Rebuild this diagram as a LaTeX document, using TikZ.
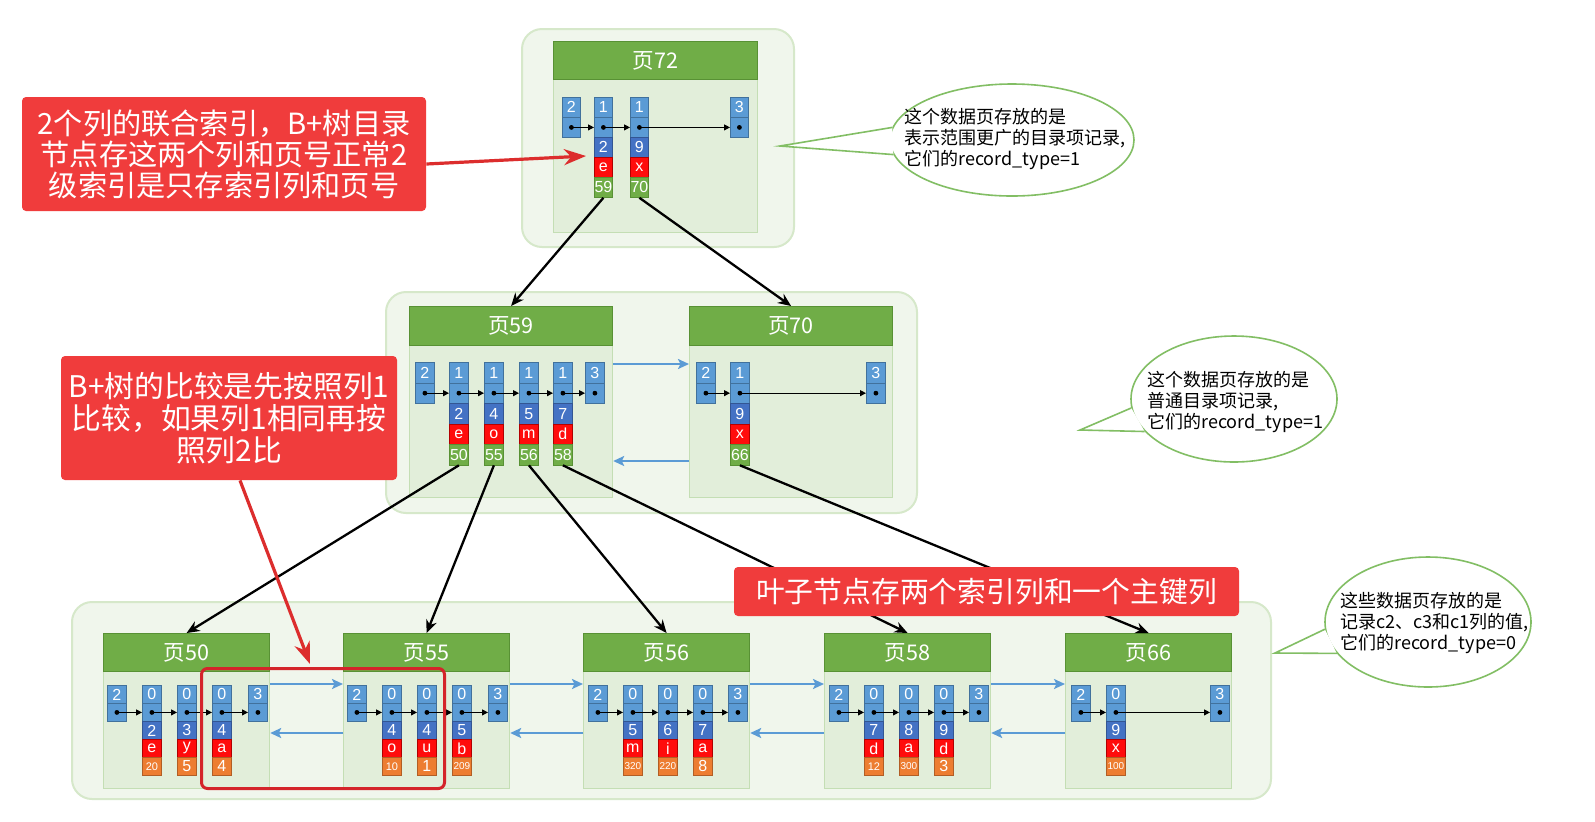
\documentclass[tikz,border=0pt]{standalone}
\usepackage{fontspec}
\setmainfont{Liberation Sans}
\newfontfamily\cjk{Noto Sans CJK SC}
\usetikzlibrary{arrows.meta,shapes.geometric}
\definecolor{grpfill}{RGB}{240,246,236}
\definecolor{grpdraw}{RGB}{214,232,202}
\definecolor{pgfillc}{RGB}{226,238,218}
\definecolor{pgdraw}{RGB}{196,222,180}
\definecolor{hdrfill}{RGB}{112,173,71}
\definecolor{hdrdraw}{RGB}{88,145,52}
\definecolor{cblue}{RGB}{91,155,213}
\definecolor{cbluedraw}{RGB}{65,113,156}
\definecolor{cdblue}{RGB}{68,114,196}
\definecolor{cred}{RGB}{255,12,12}
\definecolor{cgreen}{RGB}{112,173,71}
\definecolor{corange}{RGB}{237,125,49}
\definecolor{annred}{RGB}{240,60,60}
\definecolor{arrred}{RGB}{220,45,45}
\definecolor{hlred}{RGB}{212,36,42}
\definecolor{calloutg}{RGB}{130,190,100}
\definecolor{larrow}{RGB}{91,155,213}
\newcommand\rowh{20}
\newcommand\cellw{9pt}
\newcommand\cellh{10pt}
\newcommand\rtop[4]{%
  \node[cb] (#1t) at (#2,#3) {#4};
  \node[cb] (#1d) at (#2,#3+\rowh) {};
  \fill (#1d.center) circle[radius=1.2pt];
}
\newcommand\rfull[8]{%
  \rtop{#1}{#2}{#3}{#4}%
  \node[cdb] (#1n) at (#2,#3+2*\rowh) {#5};
  \node[cr] (#1l) at (#2,#3+3*\rowh) {#6};
  \node[#7] (#1p) at (#2,#3+4*\rowh) {#8};
}
\newcommand\link[2]{\draw[smallarr] (#1d.center) -- (#2d.west);}
\newcommand\pg[8]{%
  \node[pagebody, minimum width=#4, minimum height=#7] (#1-b) at (#2,#3+#5) {};
  \node[header, minimum width=#4, minimum height=#6] (#1-h) at (#2,#3) {#8};
}
\begin{document}
\begin{tikzpicture}[x=0.5pt,y=-0.5pt,
  group/.style={draw=grpdraw, fill=grpfill, line width=1pt, rounded corners=10pt, anchor=north west, inner sep=0},
  pagebody/.style={draw=pgdraw, fill=pgfillc, line width=0.6pt, anchor=north west, inner sep=0},
  header/.style={draw=hdrdraw, fill=hdrfill, line width=0.6pt, anchor=north west, inner sep=0, text=white, font=\cjk\fontsize{10.8}{12}\selectfont},
  cellbase/.style={line width=0.4pt, anchor=north west, inner sep=0, minimum width=\cellw, minimum height=\cellh, text=white, font=\fontsize{8}{8}\selectfont},
  cb/.style={cellbase, fill=cblue, draw=cbluedraw},
  cdb/.style={cellbase, fill=cdblue, draw=cdblue!75!black},
  cr/.style={cellbase, fill=cred, draw=red!70!black},
  cg/.style={cellbase, fill=cgreen, draw=hdrdraw},
  co/.style={cellbase, fill=corange, draw=corange!75!black},
  sm2/.style={font=\fontsize{5.5}{5.5}\selectfont},
  sm3/.style={font=\fontsize{5}{5}\selectfont},
  smallarr/.style={-{Triangle[length=3pt,width=3pt]}, line width=0.5pt},
  treearr/.style={-{Stealth[length=6.5pt,width=5.5pt]}, line width=1.15pt},
  bluearr/.style={-{Stealth[length=5.5pt,width=5pt,inset=1.2pt]}, line width=1.2pt, draw=larrow},
  annbox/.style={fill=annred, rounded corners=2pt, text=white, align=center, inner sep=0},
  redarr/.style={-{Stealth[length=11pt,width=8pt]}, line width=1.6pt, draw=arrred},
  bubble/.style={ellipse, draw=calloutg, fill=white, line width=0.8pt, inner sep=0},
  callouttext/.style={align=left, anchor=west, font=\cjk\fontsize{9}{10.7}\selectfont, inner sep=0}
]
\useasboundingbox (0,0) rectangle (1595,821);
\fill[white] (0,0) rectangle (1595,821);

% groups
\node[group, minimum width=136pt, minimum height=109pt] (g1) at (521,28) {};
\node[group, minimum width=265.5pt, minimum height=110.5pt] (g2) at (385,291) {};
\node[group, minimum width=599.5pt, minimum height=98.5pt] (g3) at (71,601) {};

% pages
\pg{p72}{553}{41}{102pt}{38}{19pt}{76.5pt}{页72}
\pg{p59}{409}{306}{101.5pt}{39}{19.5pt}{76pt}{页59}
\pg{p70}{689}{306}{101.5pt}{39}{19.5pt}{76pt}{页70}
\pg{p50}{103}{633}{83pt}{38}{19pt}{58.5pt}{页50}
\pg{p55}{343}{633}{83pt}{38}{19pt}{58.5pt}{页55}
\pg{p56}{583}{633}{83pt}{38}{19pt}{58.5pt}{页56}
\pg{p58}{824}{633}{83pt}{38}{19pt}{58.5pt}{页58}
\pg{p66}{1065}{633}{83pt}{38}{19pt}{58.5pt}{页66}

% page 72 records
\renewcommand\rowh{20}\renewcommand\cellw{9pt}\renewcommand\cellh{10pt}
\rtop{a0}{562}{97}{2}
\rfull{a1}{594}{97}{1}{2}{e}{cg}{59}
\rfull{a2}{630}{97}{1}{9}{x}{cg}{70}
\rtop{a3}{730}{97}{3}
\link{a0}{a1}\link{a1}{a2}\link{a2}{a3}

% page 59 / 70 records
\renewcommand\rowh{20.5}\renewcommand\cellw{9.5pt}\renewcommand\cellh{10.25pt}
\rtop{b0}{415}{362}{2}
\rfull{b1}{449}{362}{1}{2}{e}{cg}{50}
\rfull{b2}{484}{362}{1}{4}{o}{cg}{55}
\rfull{b3}{519}{362}{1}{5}{m}{cg}{56}
\rfull{b4}{553}{362}{1}{7}{d}{cg}{58}
\rtop{b5}{585}{362}{3}
\link{b0}{b1}\link{b1}{b2}\link{b2}{b3}\link{b3}{b4}\link{b4}{b5}
\rtop{c0}{696}{362}{2}
\rfull{c1}{730}{362}{1}{9}{x}{cg}{66}
\rtop{c2}{866}{362}{3}
\link{c0}{c1}\link{c1}{c2}

% leaf records
\renewcommand\rowh{18}\renewcommand\cellw{9.5pt}\renewcommand\cellh{9pt}
\rtop{d0}{107}{685}{2}
\rfull{d1}{142}{685}{0}{2}{e}{co,sm2}{20}
\rfull{d2}{177}{685}{0}{3}{y}{co}{5}
\rfull{d3}{212}{685}{0}{4}{a}{co}{4}
\rtop{d4}{248}{685}{3}
\link{d0}{d1}\link{d1}{d2}\link{d2}{d3}\link{d3}{d4}
\rtop{e0}{347}{685}{2}
\rfull{e1}{382}{685}{0}{4}{o}{co,sm2}{10}
\rfull{e2}{417}{685}{0}{4}{u}{co}{1}
\rfull{e3}{452}{685}{0}{5}{b}{co,sm3}{209}
\rtop{e4}{488}{685}{3}
\link{e0}{e1}\link{e1}{e2}\link{e2}{e3}\link{e3}{e4}
\rtop{f0}{588}{685}{2}
\rfull{f1}{623}{685}{0}{5}{m}{co,sm3}{320}
\rfull{f2}{658}{685}{0}{6}{i}{co,sm3}{220}
\rfull{f3}{693}{685}{0}{7}{a}{co}{8}
\rtop{f4}{728}{685}{3}
\link{f0}{f1}\link{f1}{f2}\link{f2}{f3}\link{f3}{f4}
\rtop{g0}{829}{685}{2}
\rfull{g1}{864}{685}{0}{7}{d}{co,sm2}{12}
\rfull{g2}{899}{685}{0}{8}{a}{co,sm3}{300}
\rfull{g3}{934}{685}{0}{9}{d}{co}{3}
\rtop{g4}{969}{685}{3}
\link{g0}{g1}\link{g1}{g2}\link{g2}{g3}\link{g3}{g4}
\rtop{h0}{1071}{685}{2}
\rfull{h1}{1106}{685}{0}{9}{x}{co,sm3}{100}
\rtop{h2}{1210}{685}{3}
\link{h0}{h1}\link{h1}{h2}

% sibling (blue) arrows
\draw[bluearr] ([yshift=-9.5pt]p59-b.north east) -- ([yshift=-9.5pt]p70-b.north west);
\draw[bluearr] ([yshift=-58pt]p70-b.north west) -- ([yshift=-58pt]p59-b.north east);
\foreach \pa/\pb in {p50/p55,p55/p56,p56/p58,p58/p66}{
  \draw[bluearr] ([yshift=-6.5pt]\pa-b.north east) -- ([yshift=-6.5pt]\pb-b.north west);
  \draw[bluearr] ([yshift=-31pt]\pb-b.north west) -- ([yshift=-31pt]\pa-b.north east);
}

% tree arrows
\draw[treearr] (a1p.south) -- (p59-h.north);
\draw[treearr] (a2p.south) -- (p70-h.north);
\draw[treearr] (b1p.south) -- (p50-h.north);
\draw[treearr] (b2p.south) -- (p55-h.north);
\draw[treearr] (b3p.south) -- (p56-h.north);
\draw[treearr] (b4p.south) -- (p58-h.north);
\draw[treearr] (c1p.south) -- (p66-h.north);

% highlight
\node[draw=hlred, line width=1.5pt, rounded corners=3pt, minimum width=121.5pt, minimum height=60pt, anchor=north west, inner sep=0] (hl) at (200,667) {};

% annotations
\node[annbox, minimum width=202pt, minimum height=57pt, font=\cjk\fontsize{14.6}{15.5}\selectfont] (ann1) at (224,154) {2个列的联合索引，B+树目录\\节点存这两个列和页号正常2\\级索引是只存索引列和页号};
\node[annbox, minimum width=168pt, minimum height=62pt, font=\cjk\fontsize{14.9}{16}\selectfont] (ann2) at (229,418) {B+树的比较是先按照列1\\比较，如果列1相同再按\\照列2比};
\node[annbox, minimum width=252.5pt, minimum height=24.5pt, font=\cjk\fontsize{14.4}{15.5}\selectfont] (ann3) at (986.5,591.5) {叶子节点存两个索引列和一个主键列};
\coordinate (t1) at (586,156);
\coordinate (t2) at (310,664);
\draw[redarr] ([yshift=-5pt]ann1.east) -- (t1);
\draw[redarr] ([xshift=5.5pt]ann2.south) -- (t2);

% callouts
\node[bubble, minimum width=122pt, minimum height=56pt] (k1) at (1012,140) {};
\coordinate (k1tip) at (780,146);
\fill[white] (k1.174) -- (k1tip) -- (k1.187) -- cycle;
\draw[calloutg, line width=0.8pt] (k1.174) -- (k1tip) -- (k1.187);
\node[callouttext] (k1txt) at (904,139) {这个数据页存放的是\\表示范围更广的目录项记录,\\它们的record\_type=1};

\node[bubble, minimum width=103pt, minimum height=63pt] (k2) at (1234,399) {};
\coordinate (k2tip) at (1080,430);
\fill[white] (k2.185) -- (k2tip) -- (k2.200) -- cycle;
\draw[calloutg, line width=0.8pt] (k2.185) -- (k2tip) -- (k2.200);
\node[callouttext] (k2txt) at (1147,402) {这个数据页存放的是\\普通目录项记录,\\它们的record\_type=1};

\node[bubble, minimum width=103pt, minimum height=65pt] (k3) at (1428,622) {};
\coordinate (k3tip) at (1275,653);
\fill[white] (k3.184) -- (k3tip) -- (k3.199) -- cycle;
\draw[calloutg, line width=0.8pt] (k3.184) -- (k3tip) -- (k3.199);
\node[callouttext] (k3txt) at (1340,623) {这些数据页存放的是\\记录c2、c3和c1列的值,\\它们的record\_type=0};
\end{tikzpicture}
\end{document}
